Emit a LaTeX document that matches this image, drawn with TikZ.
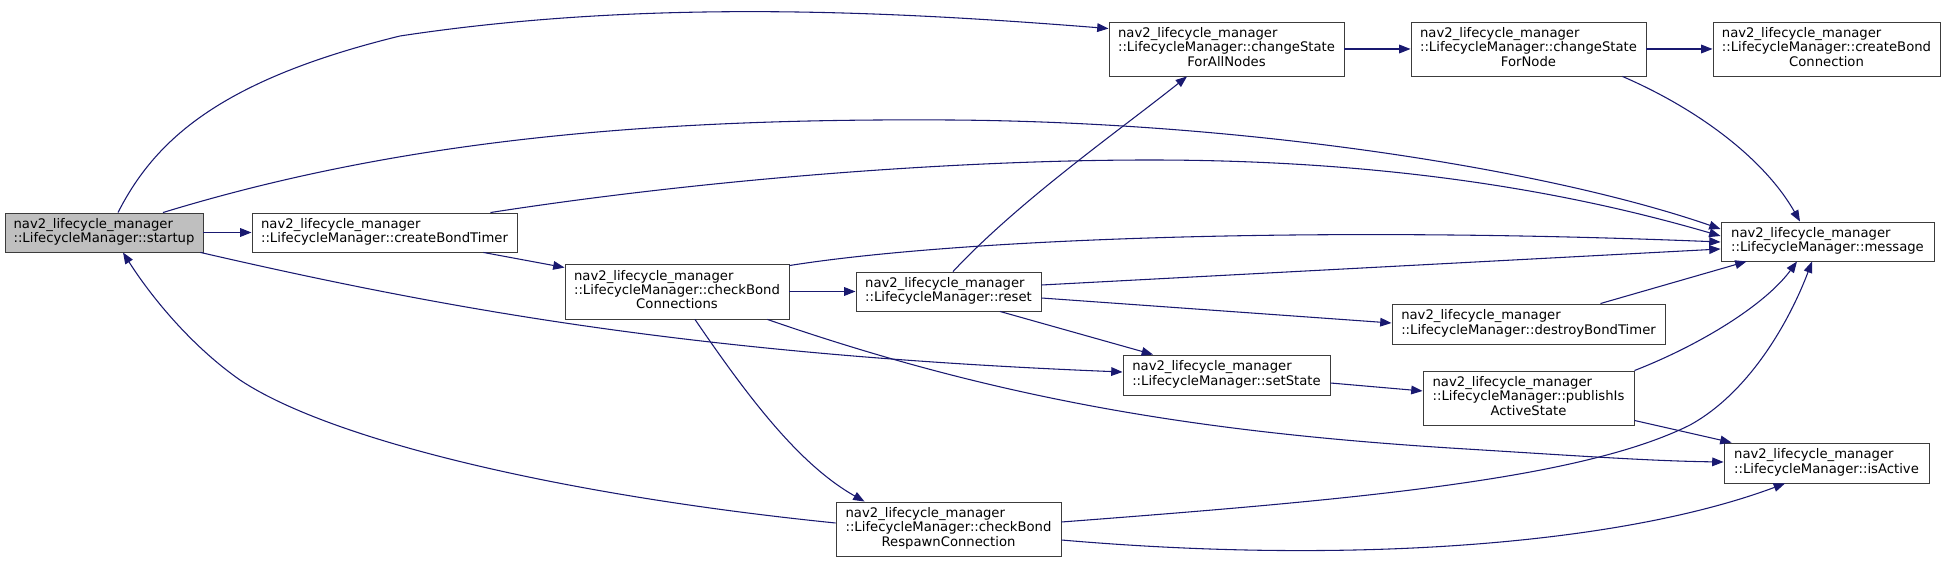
\documentclass[tikz,border=0pt]{standalone}
\usepackage{fontspec}
\setmainfont{DejaVu Sans}
\usetikzlibrary{arrows.meta,calc}
\definecolor{midblue}{RGB}{25,25,112}
\definecolor{boxline}{RGB}{60,60,60}
\newcommand{\lmtwo}[1]{\begin{tabular}{@{}l@{}}nav2\_lifecycle\_manager\\::LifecycleManager::#1\end{tabular}}
\newcommand{\lmthree}[2]{\begin{tabular}{@{}l@{}}nav2\_lifecycle\_manager\\::LifecycleManager::#1\\\multicolumn{1}{@{}c@{}}{#2}\end{tabular}}
\begin{document}
\begin{tikzpicture}[x=0.75pt,y=-0.75pt,
    fn/.style={draw=boxline,line width=0.7pt,fill=white,inner sep=0pt,
      font=\fontsize{9.9}{10.7}\selectfont},
    bw/.style={minimum width=#1*0.75pt},
    bh/.style={minimum height=#1*0.75pt},
    call/.style={midblue,line width=0.8pt,-{Triangle[length=8.5pt,width=6.5pt]}}]
  \useasboundingbox (0,0) rectangle (1945,566);
  \node[fn,fill=black!25,bw=198,bh=39] (startup) at (104,232.5) {\lmtwo{startup}};
  \node[fn,bw=265,bh=39] (cbt) at (384.5,232.5) {\lmtwo{createBondTimer}};
  \node[fn,bw=224,bh=55] (cbc) at (677,291.5) {\lmthree{checkBond}{Connections}};
  \node[fn,bw=185,bh=39] (reset) at (948.5,291.5) {\lmtwo{reset}};
  \node[fn,bw=225,bh=54] (cbrc) at (948.5,529) {\lmthree{checkBond}{RespawnConnection}};
  \node[fn,bw=235,bh=54] (csan) at (1226.5,49) {\lmthree{changeState}{ForAllNodes}};
  \node[fn,bw=207,bh=40] (setstate) at (1226.5,375) {\lmtwo{setState}};
  \node[fn,bw=235,bh=54] (csn) at (1528.5,49) {\lmthree{changeState}{ForNode}};
  \node[fn,bw=273,bh=40] (dbt) at (1528.5,324) {\lmtwo{destroyBondTimer}};
  \node[fn,bw=211,bh=54] (pias) at (1528.5,398) {\lmthree{publishIs}{ActiveState}};
  \node[fn,bw=227,bh=54] (cbcon) at (1826.5,49) {\lmthree{createBond}{Connection}};
  \node[fn,bw=213,bh=39] (message) at (1827.5,241.5) {\lmtwo{message}};
  \node[fn,bw=205,bh=40] (isactive) at (1826.5,463) {\lmtwo{isActive}};

  % calls out of startup
  \draw[call] ($(startup.north)+(14,0)$) .. controls (155,140) and (220,80) .. (400,36)
    .. controls (650,-2) and (900,12) .. ($(csan.north west)+(0,7)$);
  \draw[call] ($(startup.north)+(59,0)$) .. controls (400,140) and (650,118) .. (950,120)
    .. controls (1250,122) and (1550,170) .. ($(message.west)+(0,-12.5)$);
  \draw[call] (startup) -- (cbt);
  \draw[call] ($(startup.south east)+(-3,0)$) .. controls (450,310) and (700,355) .. ($(setstate.west)+(0,-3)$);
  \draw[call] ($(cbrc.west)+(0,-6)$) .. controls (560,495) and (330,440) .. (240,380)
    .. controls (190,345) and (150,295) .. ($(startup.south)+(19,0)$);

  \draw[call] ($(cbt.north east)+(-27,0)$) .. controls (700,180) and (950,160) .. (1150,160)
    .. controls (1400,160) and (1580,195) .. ($(message.west)+(0,-5.5)$);
  \draw[call] ($(cbt.south east)+(-34,0)$) -- ($(cbc.north west)+(0,4)$);

  \draw[call] (cbc) -- (reset);
  \draw[call] ($(cbc.north east)+(0,2)$) .. controls (950,240) and (1300,225) .. ($(message.west)+(0,0.5)$);
  \draw[call] ($(cbc.south)+(18,0)$) .. controls (750,400) and (800,465) .. ($(cbrc.north west)+(29,0)$);
  \draw[call] ($(cbc.south east)+(-22,0)$) .. controls (1000,400) and (1200,432) .. (1450,448)
    .. controls (1580,456) and (1650,461) .. ($(isactive.west)+(0,-1)$);

  \draw[call] ($(reset.north)+(4.5,0)$) .. controls (1020,200) and (1120,130) .. ($(csan.south)+(-39.5,0)$);
  \draw[call] ($(reset.east)+(0,-6.5)$) -- ($(message.west)+(0,7.5)$);
  \draw[call] ($(reset.east)+(0,6.5)$) -- ($(dbt.west)+(0,-1)$);
  \draw[call] ($(reset.south)+(51.5,0)$) -- ($(setstate.north)+(-73.5,0)$);

  \draw[call] ($(setstate.east)+(0,8)$) -- ($(pias.west)+(0,-7)$);
  \draw[call] (csan) -- (csn);
  \draw[call] (csn) -- (cbcon);
  \draw[call] ($(csn.south east)+(-24,0)$) .. controls (1700,110) and (1765,160) .. ($(message.north)+(-27.5,0)$);
  \draw[call] ($(dbt.north east)+(-65,0)$) -- ($(message.south west)+(26,0)$);
  \draw[call] (pias.north east) .. controls (1700,345) and (1765,305) .. ($(message.south)+(-30.5,0)$);
  \draw[call] ($(pias.south east)+(0,-5)$) -- ($(isactive.north west)+(8,0)$);

  \draw[call] ($(cbrc.east)+(0,-7)$) .. controls (1350,500) and (1580,480) .. (1690,425)
    .. controls (1750,392) and (1790,320) .. ($(message.south)+(-15.5,0)$);
  \draw[call] ($(cbrc.east)+(0,11)$) .. controls (1350,565) and (1620,545) .. ($(isactive.south)+(-41.5,0)$);
\end{tikzpicture}
\end{document}
